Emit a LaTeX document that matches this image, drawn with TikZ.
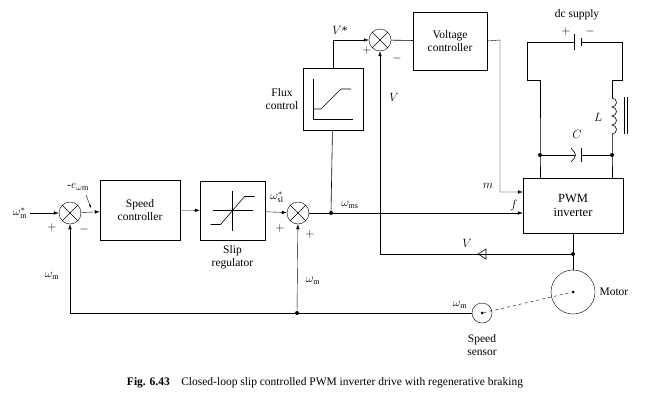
\documentclass[tikz,border=0pt]{standalone}
\usepackage{fontspec}
\setmainfont{Liberation Serif}
\usetikzlibrary{positioning,arrows.meta,decorations.pathmorphing}

\begin{document}
\begin{tikzpicture}[x=1pt,y=-1pt,font=\fontsize{11.5}{12.5}\selectfont,
    block/.style={draw,minimum width=#1,align=center,inner sep=1pt},
    sum/.style={draw,circle,minimum size=22pt,inner sep=0pt,path picture={
        \draw (path picture bounding box.north west)--(path picture bounding box.south east)
              (path picture bounding box.north east)--(path picture bounding box.south west);}},
    dot/.style={circle,fill,inner sep=0pt,minimum size=4pt},
    sig/.style={-{Latex[length=5pt,width=3.5pt]}},
    wire/.style={line width=0.6pt}]
    \useasboundingbox (0,0) rectangle (650,402);

    % forward path
    \node[sum] (s1) at (70,213) {};
    \node[block=80pt,minimum height=60pt] (speed) at (140,210) {Speed\\controller};
    \node[block=65pt,minimum height=59pt] (slip) at (232.5,210.5) {};
    \node[align=center,below=2pt of slip] {Slip\\regulator};
    \node[sum] (s2) at (298,213) {};
    \node[dot] (j1) at (331,213) {};
    \node[block=60pt,minimum height=62pt] (flux) at (333,99) {};
    \node[align=center,left=1pt of flux] {Flux\\control};
    \node[sum] (s3) at (380,40) {};
    \node[block=74pt,minimum height=58pt] (volt) at (450,41) {Voltage\\controller};
    \node[block=100pt,minimum height=55pt,font=\fontsize{12.5}{14}\selectfont] (pwm) at (573,205.5) {PWM\\inverter};
    \node[dot] (j2) at (573,254) {};
    \node[draw,circle,minimum size=44pt] (motor) at (573,292) {};
    \node[dot,minimum size=3pt] (mc) at (573,292) {};
    \node[draw,circle,minimum size=20pt] (sens) at (482,313) {};
    \node[dot,minimum size=3pt] (sc) at (482,313) {};
    \node[dot] (j3) at (297,313) {};
    \coordinate (c1) at (70,313);

    % icons
    \draw[wire] (slip.center)+(-20,0) -- +(20,0) (slip.center)+(0,-20) -- +(0,20);
    \draw[wire] (slip.center)+(-22,14) -- +(-12,14) -- +(12,-14) -- +(22,-14);
    \draw[wire] (flux.center)+(-20,-20) -- +(-20,20) -- +(20,20);
    \draw[wire] (flux.center)+(-20,10) -- +(-12,10) -- +(8,-10) -- +(18,-10);

    % connectors
    \draw[sig] (30,213) -- (s1);
    \draw[sig] (s1) -- (speed);
    \draw[sig] (speed) -- (slip);
    \draw[sig] (slip) -- (s2);
    \draw[wire] (s2) -- (j1);
    \draw[sig] (j1) -- (pwm.west |- j1);
    \draw[wire] (j1) -- (flux);
    \draw[sig] (flux.north) |- (s3);
    \draw[wire] (s3) -- (volt);
    \draw[sig] (volt.east) -- (500,40) |- (pwm.west |- 0,192);
    \draw[wire] (pwm) -- (j2) -- (motor);
    \draw[wire] (j2) -- (478,254);
    \draw[wire] (478,254) -- (486,249) -- (486,259) -- cycle;
    \draw[sig] (478,254) -| (s3);
    \draw[dashed] (sc) -- (mc);
    \draw[wire] (sens) -- (j3);
    \draw[sig] (j3) -- (c1) -- (s1);
    \draw[sig] (j3) -- (s2);

    % dc supply circuit
    \coordinate (a1) at (540,155);
    \coordinate (a2) at (612,155);
    \draw[wire] (pwm.north -| a1) -- (a1) -- (540,80) -- (527,80) -- (527,42) -- (574,42);
    \draw[wire] (581,42) -- (622,42) -- (622,80) -- (612,80) -- (612,98);
    \draw[line width=0.8pt] (574,34) -- (574,50) (581,38) -- (581,46);
    \draw[wire] (612,98)
        \foreach \k in {0,...,3} { arc[start angle=-90,end angle=90,radius=4.5]};
    \draw[wire] (612,134) -- (a2) -- (pwm.north -| a2);
    \draw[wire] (624,97) -- (624,134) (627,97) -- (627,134);
    \draw[wire] (a1) -- (575,155) (581,155) -- (a2);
    \draw[wire] (581,148) -- (581,162);
    \draw[wire] (571,148) .. controls (577,155) .. (571,162);
    \node[dot] at (a1) {};
    \node[dot] at (a2) {};

    % labels
    \node at (577,15) {dc supply};
    \node at (566,31) {$+$};
    \node at (590,31) {$-$};
    \node at (577,134) {$C$};
    \node at (598,117) {$L$};
    \node[right] at (596,292) {Motor};
    \node[align=center] at (482,345) {Speed\\sensor};
    \node at (20,213) {$\omega_{\mathrm{m}}^{*}$};
    \node at (52,227) {$+$};
    \node at (84,229) {$-$};
    \node (eom) at (78,187) {-$e_{\omega\mathrm{m}}$};
    \draw[-{Latex[length=3pt]}] (86,195) -- (91,208);
    \node at (52,276) {$\omega_{\mathrm{m}}$};
    \node at (277,197) {$\omega_{\mathrm{sl}}^{*}$};
    \node at (280,228) {$+$};
    \node at (310,234) {$+$};
    \node at (313,281) {$\omega_{\mathrm{m}}$};
    \node at (350,205) {$\omega_{\mathrm{ms}}$};
    \node at (340,30) {$V$*};
    \node at (367,50) {$+$};
    \node at (397,58) {$-$};
    \node at (394,97) {$V$};
    \node at (488,186) {$m$};
    \node at (514,205) {$f$};
    \node at (467,243) {$V$};
    \node at (460,305) {$\omega_{\mathrm{m}}$};
    \node at (325,383) {\textbf{Fig. 6.43}\quad Closed-loop slip controlled PWM inverter drive with regenerative braking};
\end{tikzpicture}
\end{document}
